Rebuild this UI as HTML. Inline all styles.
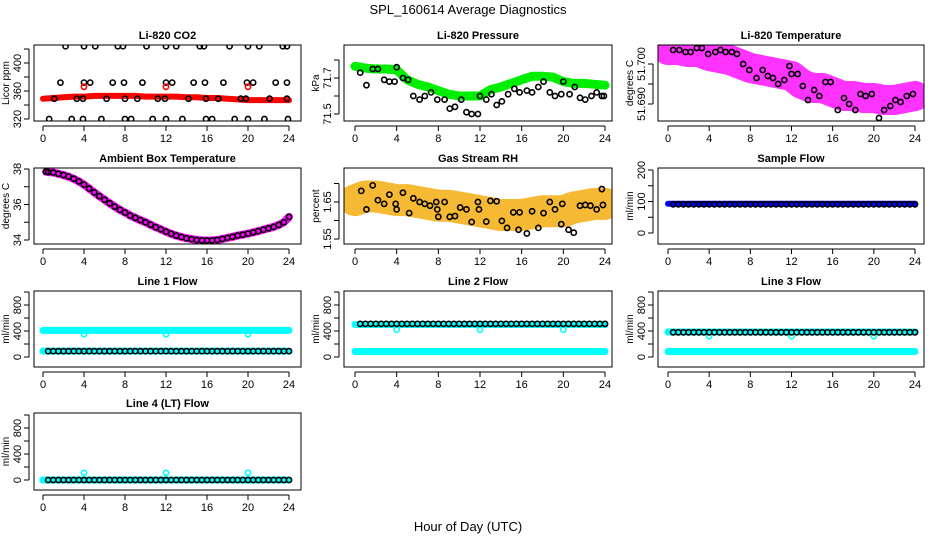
<!DOCTYPE html>
<html><head><meta charset="utf-8"><style>
body{margin:0;background:#fff}
svg text{font-family:"Liberation Sans",Arial,sans-serif;fill:#000}
</style></head><body>
<svg id="chart" width="936" height="540" xmlns="http://www.w3.org/2000/svg">
<rect width="936" height="540" fill="#fff"/>
<text x="468" y="14" font-size="13" text-anchor="middle">SPL_160614  Average Diagnostics</text>
<text x="468" y="531" font-size="13" text-anchor="middle">Hour of Day (UTC)</text>
</svg>
<script>
// ---- data ----
const hourly = [0,1,2,3,4,5,6,7,8,9,10,11,12,13,14,15,16,17,18,19,20,21,22,23,24];
const xTicks = [0,4,8,12,16,20,24];

const co2Band = [349,350,351,352,352,353,353,353,353,353,352,352,352,352,351,351,350,350,349,348,347,347,347,347,347];
const co2TopH = [2.2,4,5.1,7.3,7.8,10.1,12,13,15.3,15.7,18.2,20,21.1,23.4,23.8];
const co2MidH = [1.7,4,4.6,6.8,7.9,9.7,12,12.6,14.7,15.8,17.6,19.9,20.5,22.7,23.8];
const co2LowH = [1.1,3.3,3.9,6.2,8,9.2,11.2,11.9,14.2,15.9,17.1,19.3,19.8,22.1,23.8];
const co2BotH = [0.6,2.8,3.9,5.7,8,8.6,10.7,12,13.6,15.9,16.5,18.7,20,21.6,23.9];
const co2RedH = [4,12,20];
const co2Levels = [424,372,349,320,366];

const presBand = [71.765,71.755,71.75,71.75,71.745,71.69,71.665,71.65,71.63,71.61,71.6,71.6,71.6,71.635,71.65,71.67,71.69,71.71,71.71,71.705,71.68,71.67,71.67,71.665,71.66];
const presH = [0.5,1.1,1.7,2.2,2.8,3.3,3.8,4,4.6,5.1,5.6,6.2,6.7,7.3,7.9,8.6,9.1,9.6,10.2,10.7,11.2,11.8,12,12.6,13.1,13.6,14.1,14.7,15.3,15.8,16.5,17,17.6,18.1,18.7,19.2,19.8,20,20.6,21.1,21.6,22.1,22.7,23.2,23.7,23.9];
const presV = [71.73,71.66,71.75,71.75,71.69,71.68,71.68,71.76,71.7,71.69,71.6,71.58,71.6,71.62,71.58,71.58,71.53,71.54,71.58,71.51,71.5,71.5,71.6,71.58,71.61,71.55,71.57,71.61,71.64,71.62,71.63,71.62,71.65,71.68,71.62,71.6,71.61,71.68,71.61,71.65,71.59,71.58,71.6,71.62,71.6,71.6];

const tempBand = [51.7035,51.7035,51.703,51.703,51.702,51.7015,51.701,51.7,51.699,51.6985,51.698,51.6975,51.697,51.695,51.694,51.694,51.693,51.692,51.692,51.6915,51.6915,51.691,51.691,51.6915,51.692];
const tempH = [0.5,1.1,1.7,2.2,2.8,3.3,3.9,4.6,5.1,5.6,6.2,6.7,7.3,7.9,8.6,9.2,9.7,10.2,10.7,11.3,11.8,12,12.6,13.1,13.6,14.2,14.7,15.3,15.8,16.5,17.1,17.6,18.2,18.7,19.2,19.8,20.5,21,21.6,22.1,22.6,23.2,23.8];
const tempV = [51.7035,51.7035,51.703,51.703,51.704,51.704,51.7025,51.703,51.7035,51.703,51.703,51.7025,51.7,51.6985,51.6965,51.6985,51.697,51.6965,51.695,51.696,51.6995,51.6975,51.6975,51.6945,51.691,51.6935,51.692,51.6955,51.6955,51.6885,51.6915,51.69,51.6885,51.6925,51.692,51.6925,51.6865,51.6885,51.6895,51.691,51.6905,51.692,51.6925];

const ambH = [0.3,0.5,1,1.5,2,2.5,3,3.5,4,4.5,5,5.5,6,6.5,7,7.5,8,8.5,9,9.5,10,10.5,11,11.5,12,12.5,13,13.5,14,14.5,15,15.5,16,16.5,17,17.5,18,18.5,19,19.5,20,20.5,21,21.5,22,22.5,23,23.5,24];
const ambV = [37.85,37.83,37.8,37.73,37.66,37.57,37.45,37.3,37.12,36.9,36.68,36.47,36.27,36.07,35.88,35.7,35.55,35.38,35.25,35.12,35.0,34.86,34.72,34.6,34.47,34.35,34.25,34.17,34.1,34.05,34.0,33.98,33.97,33.98,34.0,34.06,34.12,34.18,34.25,34.3,34.36,34.43,34.5,34.58,34.66,34.74,34.85,35.0,35.3];

const rhBand = [1.655,1.665,1.665,1.66,1.655,1.655,1.65,1.645,1.64,1.64,1.635,1.63,1.625,1.62,1.615,1.615,1.615,1.62,1.625,1.625,1.625,1.635,1.64,1.645,1.645];
const rhH = [0.6,1.1,1.7,2.2,2.8,3.3,3.9,4,4.6,5.2,5.6,6.2,6.7,7.2,7.8,7.9,8,8.6,9.1,9.6,10.1,10.7,11.2,11.8,11.9,12.6,13,13.6,14.1,14.6,15.2,15.7,15.8,16.5,17,17.6,18.1,18.7,19.2,19.8,19.9,20.5,21,21.6,22.1,22.6,23.2,23.7,23.8];
const rhV = [1.68,1.63,1.695,1.655,1.645,1.67,1.645,1.63,1.675,1.62,1.66,1.65,1.645,1.64,1.65,1.63,1.61,1.65,1.61,1.612,1.635,1.63,1.596,1.65,1.63,1.597,1.653,1.652,1.599,1.58,1.622,1.575,1.622,1.565,1.625,1.58,1.62,1.65,1.63,1.59,1.645,1.575,1.567,1.64,1.642,1.64,1.63,1.685,1.642];

const sampleBandV = 93;
const sampleDotV = 91;

const line1Upper = 410, line1Lower = 90, line1Dots = 90, line1Dip = 350;
const line2Upper = 500, line2Lower = 85, line2Dots = 510, line2Dip = 420;
const line3Upper = 385, line3Lower = 85, line3Dots = 380, line3Dip = 320;
const line4Upper = 0, line4Lower = 0, line4Dots = 0, line4Dip = 110;
const dipH = [4,12,20];
const dotHours = [0.5,1,1.5,2,2.5,3,3.5,4,4.5,5,5.5,6,6.5,7,7.5,8,8.5,9,9.5,10,10.5,11,11.5,12,12.5,13,13.5,14,14.5,15,15.5,16,16.5,17,17.5,18,18.5,19,19.5,20,20.5,21,21.5,22,22.5,23,23.5,24];

// ---- layout ----
const svg = document.getElementById('chart');
const NS = 'http://www.w3.org/2000/svg';
const cols = [{l:34,r:301,x0:43,x24:289},{l:344,r:612,x0:355,x24:605},{l:658,r:924,x0:668,x24:915}];
const rows = [{t:45,b:121},{t:168,b:244},{t:291,b:367},{t:413,b:490}];

function el(tag, attrs, parent){
  const e = document.createElementNS(NS, tag);
  for (const k in attrs) e.setAttribute(k, attrs[k]);
  (parent||svg).appendChild(e);
  return e;
}

function panel(ci, ri, name, title, ylab, yv0, yp0, yv1, yp1, yTicks, yLabels, yLabelFmt){
  const c = cols[ci], r = rows[ri];
  const g = el('g', {});
  
  
  const x = h => c.x0 + (c.x24 - c.x0) * h / 24;
  const y = v => yp0 + (v - yv0) * (yp1 - yp0) / (yv1 - yv0);
  const clipId = 'clip-' + name;
  const cp = el('clipPath', {id: clipId}, g);
  el('rect', {x:c.l, y:r.t, width:c.r-c.l, height:r.b-r.t}, cp);
  const plot = el('g', {'clip-path':'url(#'+clipId+')'}, g);
  
  
  const box = el('rect', {x:c.l, y:r.t, width:c.r-c.l, height:r.b-r.t, fill:'none', stroke:'#000', 'stroke-width':1}, g);
  
  
  const t = el('text', {x:(c.l+c.r)/2, y:r.t-6, 'font-size':11, 'font-weight':'bold', 'text-anchor':'middle'}, g);
  t.textContent = title;
  
  
  const xa = el('g', {}, g);
  
  
  el('line', {x1:x(0), x2:x(24), y1:r.b+5, y2:r.b+5, stroke:'#000'}, xa);
  xTicks.forEach(h => {
    el('line', {x1:x(h), x2:x(h), y1:r.b+5, y2:r.b+10, stroke:'#000'}, xa);
    const tl = el('text', {x:x(h), y:r.b+21, 'font-size':11, 'text-anchor':'middle'}, xa);
    tl.textContent = h;
    
    
  });
  const ya = el('g', {}, g);
  
  
  el('line', {x1:c.l-5, x2:c.l-5, y1:y(yTicks[0]), y2:y(yTicks[yTicks.length-1]), stroke:'#000'}, ya);
  yTicks.forEach(v => el('line', {x1:c.l-10, x2:c.l-5, y1:y(v), y2:y(v), stroke:'#000'}, ya));
  yLabels.forEach(v => {
    const yy = y(v), xx = c.l - 13;
    const tl = el('text', {x:xx, y:yy, 'font-size':11, 'text-anchor':'middle', transform:'rotate(-90 '+xx+' '+yy+')'}, ya);
    tl.textContent = yLabelFmt ? yLabelFmt(v) : v;
    
    
  });
  const yt = el('text', {x:c.l-25, y:(r.t+r.b)/2, 'font-size':10, 'text-anchor':'middle', transform:'rotate(-90 '+(c.l-25)+' '+((r.t+r.b)/2)+')'}, ya);
  yt.textContent = ylab;
  
  
  return {plot, x, y};
}

function band(p, hs, vs, color, w, name, op){
  const pts = hs.map((h,i) => p.x(h)+','+p.y(vs[i])).join(' ');
  const pl = el('polyline', {points:pts, fill:'none', stroke:color, 'stroke-width':w, 'stroke-linejoin':'round', 'stroke-linecap':'round', opacity:op||1}, p.plot);
  
  
}
function dots(p, hs, vs, color, name, rad){
  hs.forEach((h,i) => {
    const v = Array.isArray(vs) ? vs[i] : vs;
    const c = el('circle', {cx:p.x(h), cy:p.y(v), r:rad||2.6, fill:'none', stroke:color, 'stroke-width':1.6}, p.plot);
    
    
  });
}

let p = panel(0,0,'co2','Li-820 CO2','Licor ppm',320,119,400,63,[320,340,360,380,400,420],[320,360,400]);
band(p, hourly, co2Band, '#f00', 6, 'co2-band');
dots(p, co2TopH, co2Levels[0], '#000', 'co2-point');
dots(p, co2MidH, co2Levels[1], '#000', 'co2-point');
dots(p, co2LowH, co2Levels[2], '#000', 'co2-point');
dots(p, co2BotH, co2Levels[3], '#000', 'co2-point');
dots(p, co2RedH, co2Levels[4], '#f00', 'co2-red-point');

p = panel(1,0,'pressure','Li-820 Pressure','kPa',71.5,114,71.7,78,[71.5,71.6,71.7,71.8],[71.5,71.7],v=>v.toFixed(1));
band(p, hourly, presBand, '#0e0', 9, 'pressure-band');
dots(p, presH, presV, '#000', 'pressure-point');

p = panel(2,0,'li820-temp','Li-820 Temperature','degrees C',51.69,104,51.70,64,[51.69,51.695,51.70],[51.69,51.70],v=>v.toFixed(3));
band(p, hourly, tempBand, '#f0f', 30, 'temperature-band', 0.8);
dots(p, tempH, tempV, '#000', 'temperature-point');

p = panel(0,1,'ambient','Ambient Box Temperature','degrees C',34,240,38,169,[34,35,36,37,38],[34,36,38]);
band(p, ambH, ambV, '#f0f', 8, 'ambient-band');
dots(p, ambH, ambV, '#000', 'ambient-point');

p = panel(1,1,'rh','Gas Stream RH','percent',1.55,239,1.65,202,[1.55,1.6,1.65,1.7],[1.55,1.65],v=>v.toFixed(2));
band(p, hourly, rhBand, '#f2a800', 32, 'rh-band', 0.8);
dots(p, rhH, rhV, '#000', 'rh-point');

p = panel(2,1,'sample-flow','Sample Flow','ml/min',0,233,200,170,[0,50,100,150,200],[0,100,200]);
band(p, [0,24], [sampleBandV,sampleBandV], '#00f', 6, 'sample-flow-band');
dots(p, dotHours, sampleDotV, '#000', 'sample-flow-point');

function flowPanel(ci, ri, name, title, up, lo, dv, dip){
  const q = panel(ci,ri,name,title,'ml/min',0,rows[ri].b-10,800,rows[ri].b-62,[0,200,400,600,800,1000],[0,400,800]);
  band(q, [0,24], [up,up], '#0ff', 7, name+'-upper-band');
  band(q, [0,24], [lo,lo], '#0ff', 7, name+'-lower-band');
  dots(q, dipH, dip, '#0ff', name+'-dip-point');
  dots(q, dotHours, dv, '#000', name+'-point');
}
flowPanel(0,2,'line1-flow','Line 1 Flow',line1Upper,line1Lower,line1Dots,line1Dip);
flowPanel(1,2,'line2-flow','Line 2 Flow',line2Upper,line2Lower,line2Dots,line2Dip);
flowPanel(2,2,'line3-flow','Line 3 Flow',line3Upper,line3Lower,line3Dots,line3Dip);
flowPanel(0,3,'line4-flow','Line 4 (LT) Flow',line4Upper,line4Lower,line4Dots,line4Dip);
</script>
</body></html>
